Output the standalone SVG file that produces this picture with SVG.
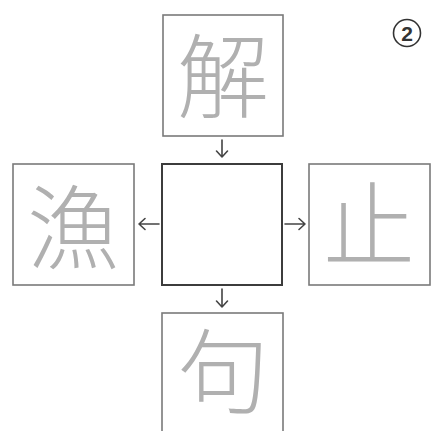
<svg xmlns="http://www.w3.org/2000/svg" width="433" height="431" viewBox="0 0 433 431">
<style>
.box{fill:none;stroke:#7a7a7a;stroke-width:1.6}
.center{fill:none;stroke:#3c3c3c;stroke-width:2}
.kanji{font-family:"Noto Sans CJK JP","Noto Sans CJK SC",sans-serif;font-size:92px;font-weight:300;fill:#b0b0b0;text-anchor:middle}
.conn{fill:none;stroke:#444;stroke-width:1.6;stroke-linecap:round;stroke-linejoin:round}
.num{font-family:"Liberation Sans",Arial,sans-serif;font-size:21px;font-weight:bold;fill:#333;text-anchor:middle}
</style>
<rect width="433" height="431" fill="#ffffff"/>
<g id="node-top">
<rect class="box" x="163" y="15" width="120" height="121"/>
<text class="kanji" x="223" y="111">解</text>
</g>
<g id="node-center">
<rect class="center" x="162" y="164" width="120" height="121"/>
</g>
<g id="node-left">
<rect class="box" x="13" y="164" width="121" height="121"/>
<text class="kanji" x="73" y="262">漁</text>
</g>
<g id="node-right">
<rect class="box" x="309" y="164" width="121" height="121"/>
<text class="kanji" x="369" y="259">止</text>
</g>
<g id="node-bottom">
<rect class="box" x="162" y="313" width="121" height="125"/>
<text class="kanji" x="223" y="406">句</text>
</g>
<g id="label-number">
<circle cx="407" cy="33" r="13.5" fill="none" stroke="#333" stroke-width="1.6"/>
<text class="num" x="407" y="40.5">2</text>
</g>
<g id="connectors">
<path class="conn" d="M222 140 V157 M216.5 151 L222 157 L227.5 151"/>
<path class="conn" d="M159 224 H139 M145 218.5 L139 224 L145 229.5"/>
<path class="conn" d="M285 224 H305 M299 218.5 L305 224 L299 229.5"/>
<path class="conn" d="M222 289 V307 M216.5 301 L222 307 L227.5 301"/>
</g>
</svg>
